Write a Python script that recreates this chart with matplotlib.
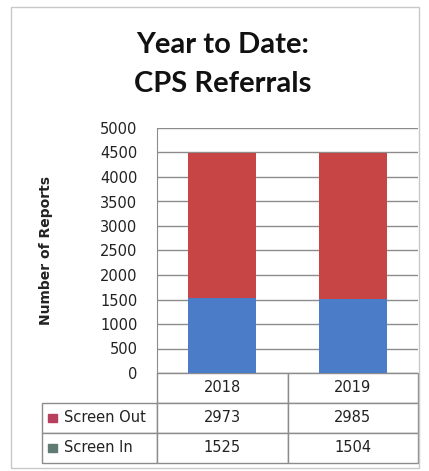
import matplotlib.pyplot as plt
from matplotlib.table import Table
from matplotlib.patches import Rectangle

years = ['2018', '2019']
series = ['Screen Out', 'Screen In']
screen_out = [2973, 2985]
screen_in = [1525, 1504]
yticks = list(range(0, 5001, 500))

bar_colors = {'Screen Out': '#C84545', 'Screen In': '#4A7CC8'}
key_colors = {'Screen Out': '#B8405E', 'Screen In': '#5E7A72'}
grid_c = '#8C8C8C'

W, H = 429, 471
fig = plt.figure(figsize=(W / 100, H / 100), dpi=100)

# plot area in pixels of the picture
px_l, px_r, px_t, px_b = 157, 418, 128, 373
ax = fig.add_axes([px_l / W, 1 - px_b / H, (px_r - px_l) / W, (px_b - px_t) / H])

x = range(len(years))
ax.bar(x, screen_in, width=0.52, color=bar_colors['Screen In'], zorder=3)
ax.bar(x, screen_out, width=0.52, bottom=screen_in, color=bar_colors['Screen Out'], zorder=3)

ax.set_xlim(-0.5, len(years) - 0.5)
ax.set_ylim(0, 5000)
ax.set_yticks(yticks)
ax.set_yticklabels([str(t) for t in yticks], fontsize=10.5, color='#222222')
ax.set_xticks([])
ax.tick_params(axis='y', length=0, pad=14)
ax.yaxis.grid(True, color=grid_c, lw=1, zorder=0)
for s in ['top', 'right', 'bottom']:
    ax.spines[s].set_visible(False)
ax.spines['left'].set_color(grid_c)

ax.set_ylabel('Number of Reports', fontsize=10, fontweight='bold', color='#222222')
ax.yaxis.set_label_coords((53 - px_l) / (px_r - px_l), 0.5)

# data table under the bars
aw = px_r - px_l
ah = px_b - px_t
lab_w = (px_l - 42) / aw
col_w = 1 / len(years)
row_h = 30 / ah
n_rows = 1 + len(series)
# bbox covers only the value cells; the row label column sits to its left
tbl = Table(ax, bbox=[0, -row_h * n_rows, 1, row_h * n_rows])
tbl.auto_set_font_size(False)
for j, yr in enumerate(years):
    c = tbl.add_cell(0, j, col_w, row_h, text=yr, loc='center')
for i, (name, vals) in enumerate([('Screen Out', screen_out), ('Screen In', screen_in)], start=1):
    c = tbl.add_cell(i, -1, lab_w, row_h, text=name, loc='left')
    c.PAD = 0.19
    for j, v in enumerate(vals):
        tbl.add_cell(i, j, col_w, row_h, text=str(v), loc='center')
for cell in tbl.get_celld().values():
    cell.set_edgecolor(grid_c)
    cell.set_linewidth(1)
    cell.get_text().set_fontsize(10.5)
    cell.get_text().set_color('#222222')
ax.add_table(tbl)

# legend keys in the row label cells
for i, name in enumerate(series, start=1):
    yc = -row_h * (i + 0.5)
    ax.add_patch(Rectangle((-lab_w + 6 / aw, yc - 4 / ah), 9 / aw, 8 / ah,
                           color=key_colors[name], clip_on=False,
                           transform=ax.transAxes))

fig.text(223 / W, 1 - 32 / H, 'Year to Date:\nCPS Referrals', ha='center', va='top',
         fontsize=21, fontweight='bold', family='Lato', linespacing=1.62, color='#111111')

fig.patches.append(Rectangle((11 / W, 1 - 468 / H), 408 / W, 461 / H, fill=False,
                             edgecolor='#C8C8C8', lw=1, transform=fig.transFigure))

fig.savefig('out.png', dpi=100, facecolor='white')
